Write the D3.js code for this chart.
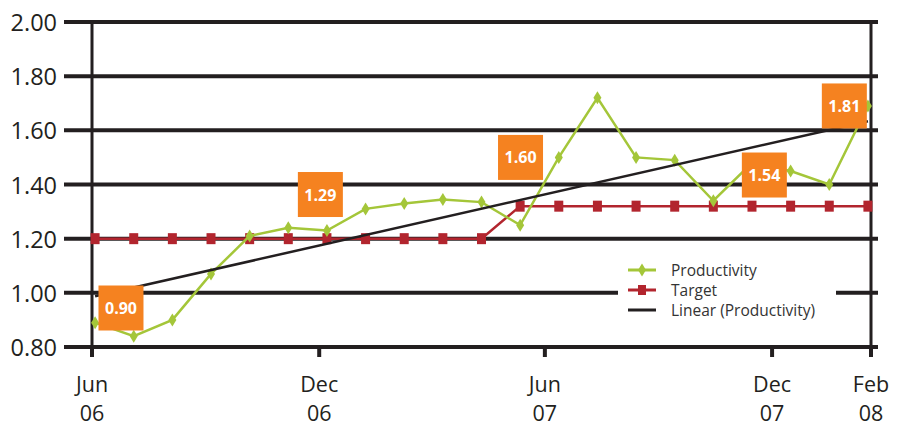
<!DOCTYPE html>
<html>
<head>
<meta charset="utf-8">
<script src="https://cdn.jsdelivr.net/npm/d3@7"></script>
<style>
  body { margin: 0; background: #fff; }
  svg { display: block; font-family: 'Open Sans', sans-serif; }
</style>
</head>
<body>
<script>
// monthly readings, Jun 06 .. Feb 08
const months = ['Jun 06', 'Jul 06', 'Aug 06', 'Sep 06', 'Oct 06', 'Nov 06', 'Dec 06',
                'Jan 07', 'Feb 07', 'Mar 07', 'Apr 07', 'May 07', 'Jun 07', 'Jul 07',
                'Aug 07', 'Sep 07', 'Oct 07', 'Nov 07', 'Dec 07', 'Jan 08', 'Feb 08'];
const productivity = [0.89, 0.84, 0.90, 1.07, 1.21, 1.24, 1.23, 1.31, 1.33, 1.345, 1.335,
                      1.25, 1.50, 1.72, 1.50, 1.49, 1.34, 1.48, 1.45, 1.40, 1.69];
const target = [1.20, 1.20, 1.20, 1.20, 1.20, 1.20, 1.20, 1.20, 1.20, 1.20, 1.20,
                1.32, 1.32, 1.32, 1.32, 1.32, 1.32, 1.32, 1.32, 1.32, 1.32];

// axis ticks (position in month index)
const xTickAt = [-0.08, 5.8, 11.64, 17.52, 20.08];
const xTickMonth = ['Jun', 'Dec', 'Jun', 'Dec', 'Feb'];
const xTickYear = ['06', '06', '07', '07', '08'];
const yTicks = [0.80, 1.00, 1.20, 1.40, 1.60, 1.80, 2.00];

// orange callouts: label, month index, value of the box centre
const calloutText = ['0.90', '1.29', '1.60', '1.54', '1.81'];
const calloutAt = [0.67, 5.83, 11.01, 17.32, 19.39];
const calloutValue = [0.944, 1.363, 1.50, 1.435, 1.69];

const legendNames = ['Productivity', 'Target', 'Linear (Productivity)'];

const width = 903, height = 427;
const ink = '#231f20', green = '#a4c639', red = '#b2252e', orange = '#f58220';

const svg = d3.select('body').append('svg')
  .attr('width', width)
  .attr('height', height);

const x = d3.scaleLinear().domain([-0.08, 20.08]).range([92, 871]);
const y = d3.scaleLinear().domain([0.8, 2.0]).range([347, 22]);

// horizontal grid (also the bottom axis)
svg.append('g').selectAll('line')
  .data(yTicks)
  .join('line')
    .attr('x1', 64).attr('x2', 878)
    .attr('y1', d => y(d)).attr('y2', d => y(d))
    .attr('stroke', ink)
    .attr('stroke-width', 4);

svg.append('g').selectAll('text')
  .data(yTicks)
  .join('text')
    .attr('x', 57)
    .attr('y', d => y(d))
    .attr('text-anchor', 'end')
    .attr('dominant-baseline', 'central')
    .attr('font-size', 23.5)
    .attr('fill', ink)
    .text(d3.format('.2f'));

// left and right verticals
svg.append('g').selectAll('line')
  .data([xTickAt[0], xTickAt[xTickAt.length - 1]])
  .join('line')
    .attr('x1', d => x(d)).attr('x2', d => x(d))
    .attr('y1', y(2.0) - 2).attr('y2', y(0.8) + 10)
    .attr('stroke', ink)
    .attr('stroke-width', 3);

// bottom ticks + labels
svg.append('g').selectAll('line')
  .data(xTickAt)
  .join('line')
    .attr('x1', d => x(d)).attr('x2', d => x(d))
    .attr('y1', y(0.8)).attr('y2', y(0.8) + 10)
    .attr('stroke', ink)
    .attr('stroke-width', 4);

const xLab = svg.append('g');
[xTickMonth, xTickYear].forEach((labels, row) => {
  xLab.append('g').selectAll('text')
    .data(xTickAt)
    .join('text')
      .attr('x', d => x(d))
      .attr('y', row ? 421 : 392)
      .attr('text-anchor', 'middle')
      .attr('font-size', 21.5)
      .attr('fill', ink)
      .text((d, i) => labels[i]);
});

// target series
svg.append('path')
  .datum(target)
  .attr('fill', 'none')
  .attr('stroke', red)
  .attr('stroke-width', 2.5)
  .attr('d', d3.line().x((d, i) => x(i)).y(d => y(d)));
svg.append('g').selectAll('rect')
  .data(target)
  .join('rect')
    .attr('x', (d, i) => x(i) - 4.5)
    .attr('y', d => y(d) - 5.5)
    .attr('width', 9)
    .attr('height', 11)
    .attr('fill', red);

// productivity series
svg.append('path')
  .datum(productivity)
  .attr('fill', 'none')
  .attr('stroke', green)
  .attr('stroke-width', 2.5)
  .attr('d', d3.line().x((d, i) => x(i)).y(d => y(d)));

const diamond = 'M0,-6.5L4,0L0,6.5L-4,0Z';
svg.append('g').selectAll('path')
  .data(productivity)
  .join('path')
    .attr('transform', (d, i) => `translate(${x(i)},${y(d)})`)
    .attr('d', diamond)
    .attr('fill', green);

// linear trend of productivity (least squares)
const n = productivity.length;
const mx = d3.mean(productivity, (d, i) => i);
const my = d3.mean(productivity);
const slope = d3.sum(productivity, (d, i) => (i - mx) * (d - my)) /
              d3.sum(productivity, (d, i) => (i - mx) * (i - mx));
const icpt = my - slope * mx;
svg.append('line')
  .attr('x1', x(0)).attr('y1', y(icpt))
  .attr('x2', x(n - 1)).attr('y2', y(icpt + slope * (n - 1)))
  .attr('stroke', ink)
  .attr('stroke-width', 2.5);

// legend
svg.append('rect')
  .attr('x', 618).attr('y', 250)
  .attr('width', 218).attr('height', 74)
  .attr('fill', '#fff');

const legend = svg.append('g').selectAll('g')
  .data(legendNames)
  .join('g')
    .attr('transform', (d, i) => `translate(628,${270 + i * 20})`);
legend.append('line')
  .attr('x1', 0).attr('x2', 28)
  .attr('stroke', (d, i) => [green, red, ink][i])
  .attr('stroke-width', 3);
legend.filter((d, i) => i === 0).append('path')
  .attr('transform', 'translate(14,0)')
  .attr('d', diamond)
  .attr('fill', green);
legend.filter((d, i) => i === 1).append('rect')
  .attr('x', 10).attr('y', -5)
  .attr('width', 8).attr('height', 10)
  .attr('fill', red);
legend.append('text')
  .attr('x', 43)
  .attr('dominant-baseline', 'central')
  .attr('font-size', 15.5)
  .attr('fill', '#333')
  .text(d => d);

// orange callout boxes
const box = svg.append('g').selectAll('g')
  .data(calloutText)
  .join('g')
    .attr('transform', (d, i) => `translate(${x(calloutAt[i])},${y(calloutValue[i])})`);
box.append('rect')
  .attr('x', -22.5).attr('y', -22.5)
  .attr('width', 45).attr('height', 45)
  .attr('fill', orange);
box.append('text')
  .attr('text-anchor', 'middle')
  .attr('dominant-baseline', 'central')
  .attr('font-size', 16)
  .attr('font-weight', 'bold')
  .attr('fill', '#fff')
  .text(d => d);
</script>
</body>
</html>
